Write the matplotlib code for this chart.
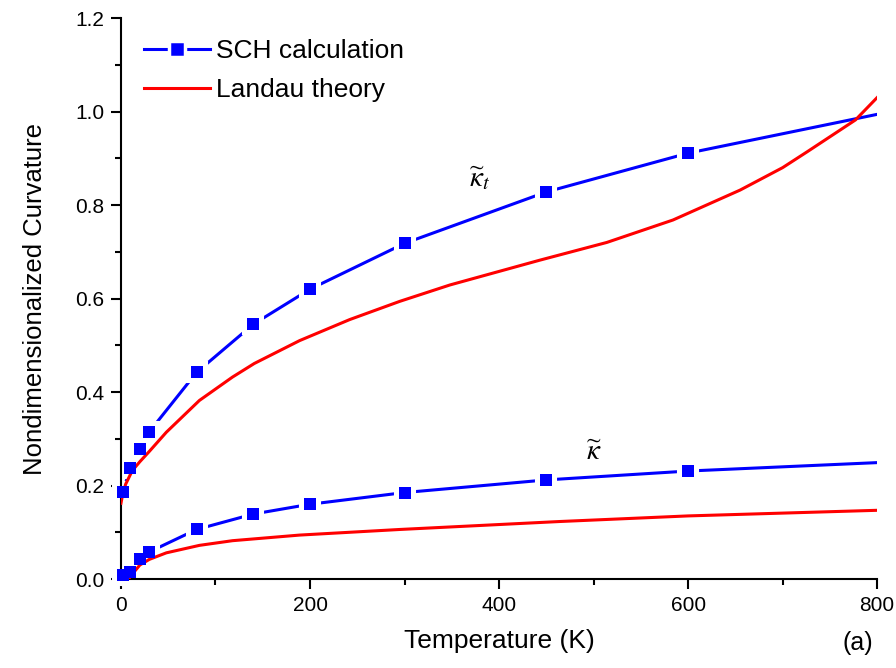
import matplotlib
matplotlib.use("Agg")
import matplotlib.pyplot as plt
from matplotlib.ticker import MultipleLocator, FormatStrFormatter

plt.rcParams['font.family'] = ['Liberation Sans', 'DejaVu Sans']
plt.rcParams['mathtext.fontset'] = 'stix'

# SCH calculation (markers at computed temperatures, line extends to 800 K)
sch_T = [2, 10, 20, 30, 80, 140, 200, 300, 450, 600, 800]
sch_kt = [0.187, 0.238, 0.278, 0.315, 0.442, 0.545, 0.620, 0.718, 0.828, 0.911, 0.994]
sch_k = [0.009, 0.016, 0.042, 0.058, 0.106, 0.139, 0.160, 0.185, 0.212, 0.231, 0.249]
n_markers = 10

# Landau theory
lan_T_t = [0, 2, 5, 12, 20, 30, 48, 83, 118, 141, 189, 242, 295, 348, 400, 443,
           514, 584, 655, 700, 726, 777, 800]
lan_kt = [0.162, 0.183, 0.203, 0.232, 0.251, 0.273, 0.314, 0.382, 0.432, 0.461,
          0.510, 0.555, 0.594, 0.629, 0.658, 0.682, 0.720, 0.768, 0.832, 0.880,
          0.914, 0.982, 1.030]
lan_T_k = [0, 8, 12.6, 20, 30, 48, 83, 118, 189, 295, 464, 600, 800]
lan_k = [0.0, 0.0, 0.012, 0.030, 0.042, 0.056, 0.072, 0.082, 0.094, 0.106,
         0.123, 0.135, 0.147]

fig = plt.figure(figsize=(8.96, 6.68), dpi=100)
ax = fig.add_axes([0.135, 0.1332, 0.844, 0.8398])

blue = '#0000ff'
red = '#ff0000'
idx = list(range(n_markers))

# blue lines
ax.plot(sch_T, sch_kt, color=blue, lw=2.2, zorder=2)
ax.plot(sch_T, sch_k, color=blue, lw=2.2, zorder=2)
# white halos that cut the blue line around each marker
for ys in (sch_kt, sch_k):
    ax.plot(sch_T[:n_markers], ys[:n_markers], ls='none', marker='s',
            markersize=14, markerfacecolor='white', markeredgecolor='white',
            markeredgewidth=1.5, zorder=2.5, clip_on=False)
# red lines
ax.plot(lan_T_t, lan_kt, color=red, lw=2.2, zorder=2.7)
ax.plot(lan_T_k, lan_k, color=red, lw=2.2, zorder=2.7)
# blue markers
for ys in (sch_kt, sch_k):
    ax.plot(sch_T[:n_markers], ys[:n_markers], ls='none', marker='s',
            markersize=9, markerfacecolor=blue, markeredgecolor=blue,
            markeredgewidth=0, zorder=3, clip_on=False)

for s in ['left', 'bottom']:
    ax.spines[s].set_zorder(2.6)

ax.set_xlim(0, 800)
ax.set_ylim(0, 1.2)
ax.xaxis.set_major_locator(MultipleLocator(200))
ax.xaxis.set_minor_locator(MultipleLocator(100))
ax.yaxis.set_major_locator(MultipleLocator(0.2))
ax.yaxis.set_minor_locator(MultipleLocator(0.1))
ax.yaxis.set_major_formatter(FormatStrFormatter('%.1f'))

for s in ['top', 'right']:
    ax.spines[s].set_visible(False)
for s in ['left', 'bottom']:
    ax.spines[s].set_linewidth(1.5)
ax.tick_params(which='major', direction='out', length=7, width=1.5,
               labelsize=15, pad=5)
ax.tick_params(which='minor', direction='out', length=4.5, width=1.5)

ax.set_xlabel('Temperature (K)', fontsize=19, labelpad=10)
ax.set_ylabel('Nondimensionalized Curvature', fontsize=18.5, labelpad=20)

# legend proxies
h_sch = matplotlib.lines.Line2D([], [], color=blue, lw=2.2, marker='s',
                                markersize=11, markerfacecolor=blue,
                                markeredgecolor='white', markeredgewidth=2.5)
h_lan = matplotlib.lines.Line2D([], [], color=red, lw=2.2)
ax.legend([h_sch, h_lan], ['SCH calculation', 'Landau theory'],
          loc='upper left', bbox_to_anchor=(0.03, 0.962), frameon=False,
          fontsize=19, handlelength=2.5, handletextpad=0.25,
          labelspacing=0.55, borderpad=0, borderaxespad=0)

ax.text(380, 0.858, r'$\widetilde{\kappa}_t$', fontsize=21, ha='center', va='center')
ax.text(501, 0.272, r'$\widetilde{\kappa}$', fontsize=21, ha='center', va='center')

fig.text(0.957, 0.02, '(a)', fontsize=18, ha='center', va='bottom')

fig.savefig('out.png', dpi=100)
